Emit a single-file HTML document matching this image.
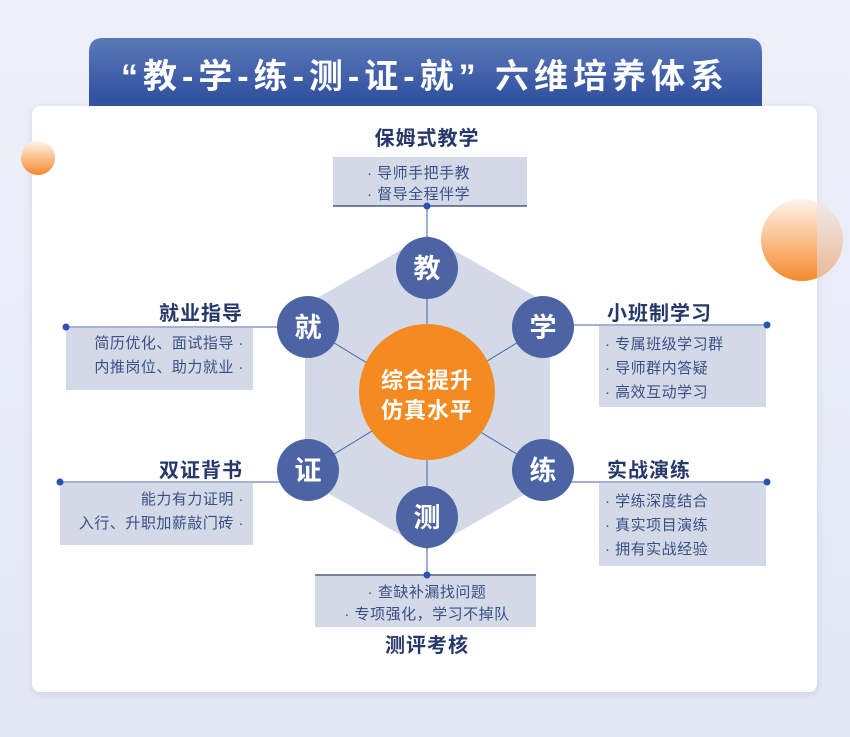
<!DOCTYPE html>
<html><head><meta charset="utf-8"><style>
html,body{margin:0;padding:0;width:850px;height:737px;overflow:hidden;background:#e9ecf7}
svg{display:block}
text{font-family:"Liberation Sans","Noto Sans CJK SC",sans-serif}
</style></head><body>
<svg width="850" height="737" viewBox="0 0 850 737" xmlns="http://www.w3.org/2000/svg">
<defs>
<linearGradient id="bg" x1="0" y1="0" x2="0" y2="1"><stop offset="0" stop-color="#eef0f9"/><stop offset="1" stop-color="#e3e7f6"/></linearGradient>
<linearGradient id="ban" x1="0" y1="0" x2="0" y2="1"><stop offset="0" stop-color="#5b79b9"/><stop offset="1" stop-color="#2d4d9c"/></linearGradient>
<linearGradient id="orb" x1="0" y1="0" x2="0" y2="1"><stop offset="0" stop-color="#fff4ea"/><stop offset="1" stop-color="#f58a2c"/></linearGradient>
<filter id="sh" x="-5%" y="-5%" width="110%" height="110%"><feDropShadow dx="0" dy="2" stdDeviation="4" flood-color="#9aa6cc" flood-opacity="0.35"/></filter>
<clipPath id="cr"><rect x="817" y="150" width="40" height="150"/></clipPath>
</defs>
<rect width="850" height="737" fill="url(#bg)"/>
<path d="M89,106 V52 Q89,38 103,38 H748 Q762,38 762,52 V106 Z" fill="url(#ban)"/>
<text x="425" y="88" font-size="34" font-weight="bold" fill="#fff" text-anchor="middle" letter-spacing="5">“教-学-练-测-证-就” 六维培养体系</text>
<rect x="32" y="106" width="785" height="586" rx="8" fill="#fff" filter="url(#sh)"/>
<circle cx="38" cy="158" r="17" fill="url(#orb)"/>
<circle cx="802" cy="240" r="41" fill="url(#orb)"/>
<circle cx="802" cy="240" r="41" fill="#dfe4f6" opacity="0.5" clip-path="url(#cr)"/>
<polygon points="427,235 550,305 550,480 427,550 305,480 305,305" fill="#d3d9e6"/>
<g stroke="#4a62a8" stroke-width="1">
<line x1="427" y1="206" x2="427" y2="575"/>
<line x1="308" y1="327" x2="543" y2="470"/>
<line x1="543" y1="327" x2="308" y2="470"/>
<line x1="66" y1="327" x2="308" y2="327"/>
<line x1="60" y1="482" x2="308" y2="482"/>
<line x1="543" y1="325" x2="767" y2="325"/>
<line x1="543" y1="482" x2="767" y2="482"/>
</g>
<rect x="333" y="157" width="194" height="49" fill="#d3d9e6"/>
<line x1="333" y1="206" x2="527" y2="206" stroke="#4a5a80" stroke-width="1.5"/>
<rect x="66" y="328" width="187" height="62" fill="#d3d9e6"/>
<rect x="60" y="483" width="193" height="62" fill="#d3d9e6"/>
<rect x="599" y="326" width="167" height="81" fill="#d3d9e6"/>
<rect x="599" y="483" width="167" height="83" fill="#d3d9e6"/>
<rect x="315" y="576" width="221" height="51" fill="#d3d9e6"/>
<line x1="315" y1="575" x2="536" y2="575" stroke="#4a5a80" stroke-width="1.5"/>
<g fill="#2a52b0">
<circle cx="427" cy="206" r="3.5"/><circle cx="66" cy="327" r="3.5"/><circle cx="60" cy="482" r="3.5"/>
<circle cx="767" cy="325" r="3.5"/><circle cx="767" cy="482" r="3.5"/><circle cx="427" cy="575" r="3.5"/>
</g>
<circle cx="427" cy="392" r="68" fill="#f38b22"/>
<text x="427" y="388" font-size="22" font-weight="bold" fill="#fff" text-anchor="middle" letter-spacing="1">综合提升</text>
<text x="427" y="418" font-size="22" font-weight="bold" fill="#fff" text-anchor="middle" letter-spacing="1">仿真水平</text>
<g fill="#4c64a4">
<circle cx="427" cy="268" r="31"/><circle cx="543" cy="327" r="31"/><circle cx="543" cy="470" r="31"/>
<circle cx="427" cy="517" r="31"/><circle cx="308" cy="470" r="31"/><circle cx="308" cy="327" r="31"/>
</g>
<g font-size="27" font-weight="bold" fill="#fff" text-anchor="middle">
<text x="427" y="278">教</text><text x="543" y="337">学</text><text x="543" y="480">练</text>
<text x="427" y="527">测</text><text x="308" y="480">证</text><text x="308" y="337">就</text>
</g>
<g font-size="20" font-weight="bold" fill="#26386a" letter-spacing="1">
<text x="427" y="145" text-anchor="middle">保姆式教学</text>
<text x="243" y="320" text-anchor="end">就业指导</text>
<text x="243" y="477" text-anchor="end">双证背书</text>
<text x="607" y="320">小班制学习</text>
<text x="607" y="477">实战演练</text>
<text x="427" y="652" text-anchor="middle">测评考核</text>
</g>
<g font-size="15" fill="#3a4f86" letter-spacing="0.5">
<text x="367" y="178">· 导师手把手教</text>
<text x="367" y="199">· 督导全程伴学</text>
<text x="244" y="348" text-anchor="end">简历优化、面试指导 ·</text>
<text x="244" y="372" text-anchor="end">内推岗位、助力就业 ·</text>
<text x="244" y="504" text-anchor="end">能力有力证明 ·</text>
<text x="244" y="528" text-anchor="end">入行、升职加薪敲门砖 ·</text>
<text x="605" y="349">· 专属班级学习群</text>
<text x="605" y="373">· 导师群内答疑</text>
<text x="605" y="397">· 高效互动学习</text>
<text x="605" y="506">· 学练深度结合</text>
<text x="605" y="530">· 真实项目演练</text>
<text x="605" y="554">· 拥有实战经验</text>
<text x="427" y="597" text-anchor="middle">· 查缺补漏找问题</text>
<text x="427" y="619" text-anchor="middle">· 专项强化，学习不掉队</text>
</g>
</svg>
</body></html>
